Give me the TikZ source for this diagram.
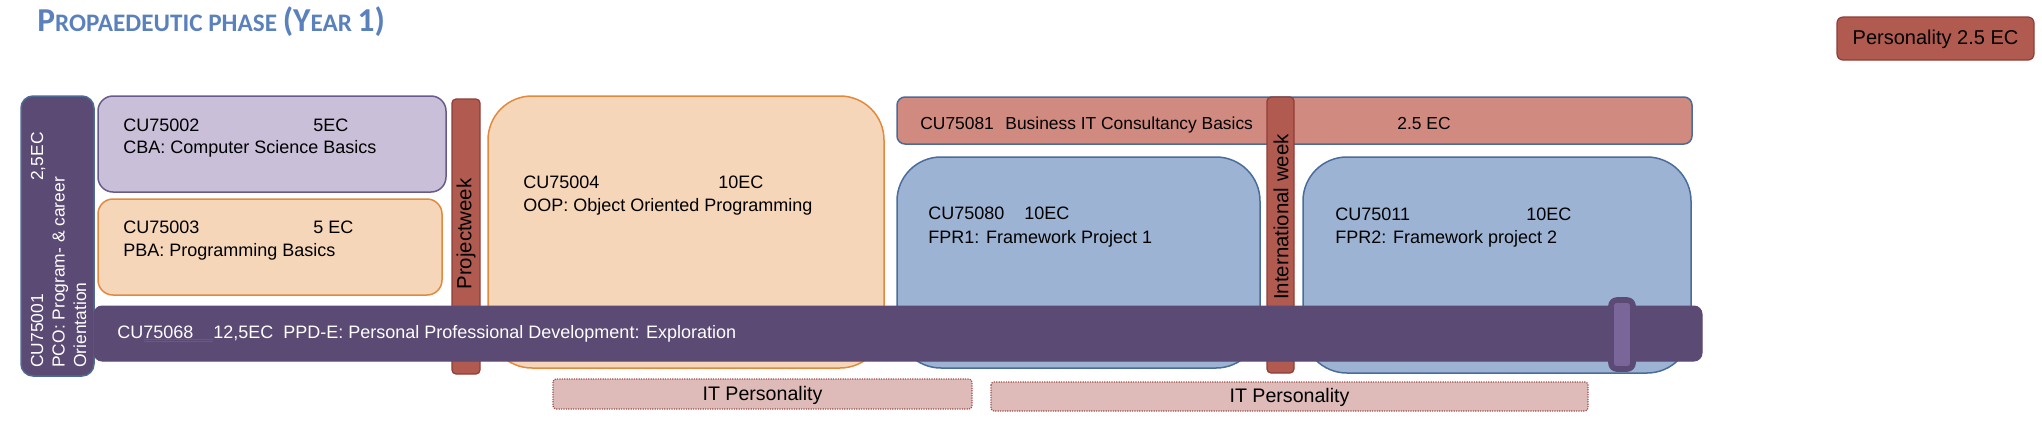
\documentclass[tikz,border=0pt]{standalone}
\usepackage{fontspec}
\setmainfont{Liberation Sans}
\newfontfamily\titlefont{Carlito}
\definecolor{titleblue}{HTML}{5B81BD}
\definecolor{ppdpurple}{HTML}{5B4A74}
\definecolor{pcoborder}{HTML}{4E6B96}
\definecolor{cbafill}{HTML}{C9BFD9}
\definecolor{cbaborder}{HTML}{6A5A8C}
\definecolor{peachfill}{HTML}{F5D6B9}
\definecolor{orangeborder}{HTML}{E3893E}
\definecolor{weekfill}{HTML}{B05A50}
\definecolor{weekborder}{HTML}{8E3D37}
\definecolor{bitfill}{HTML}{D08A80}
\definecolor{blueborder}{HTML}{4A6C9B}
\definecolor{fprfill}{HTML}{9CB3D3}
\definecolor{markfill}{HTML}{7A6699}
\definecolor{itfill}{HTML}{DEBBB8}
\definecolor{itborder}{HTML}{A0504B}
\definecolor{spellblue}{HTML}{3A5FE0}
\begin{document}
\begin{tikzpicture}[x=0.5pt,y=-0.5pt,
  txt/.style={inner sep=0pt,anchor=base west,font=\fontsize{9}{10.8}\selectfont},
  wtxt/.style={txt,text=white},
  rtxt/.style={inner sep=0pt,rotate=90,font=\fontsize{10.2}{12}\selectfont},
  pcobox/.style={fill=ppdpurple,draw=pcoborder,line width=0.75pt,rounded corners=6pt},
  cbabox/.style={fill=cbafill,draw=cbaborder,line width=0.75pt,rounded corners=7.5pt},
  peachbox/.style={fill=peachfill,draw=orangeborder,line width=0.75pt,rounded corners=7.5pt},
  bigpeach/.style={peachbox,rounded corners=22pt},
  weekbar/.style={fill=weekfill,draw=weekborder,line width=0.6pt,rounded corners=2pt},
  bitbar/.style={fill=bitfill,draw=blueborder,line width=0.75pt,rounded corners=4pt},
  fprbox/.style={fill=fprfill,draw=blueborder,line width=0.75pt,rounded corners=22pt},
  ppdbar/.style={fill=ppdpurple,draw=ppdpurple,line width=0.5pt,rounded corners=4pt},
  markbox/.style={fill=markfill,draw=ppdpurple,line width=2.8pt,rounded corners=3pt},
  persbox/.style={fill=weekfill,draw=weekborder,line width=0.6pt,rounded corners=3pt},
  itbox/.style={fill=itfill,draw=itborder,line width=0.6pt,dash pattern=on 0.6pt off 0.6pt,rounded corners=1.5pt},
  spell/.style={draw=spellblue,line width=0.35pt}
]
\useasboundingbox (0,0) rectangle (2042,436);

% title
\node[inner sep=0pt,anchor=base west,text=titleblue] (title) at (37,31)
 {\titlefont\bfseries\fontsize{16.7}{19}\selectfont P\fontsize{12.6}{15}\selectfont ROPAEDEUTIC PHASE \fontsize{16.7}{19}\selectfont (Y\fontsize{12.6}{15}\selectfont EAR \fontsize{16.7}{19}\selectfont 1)};

% personality box top right
\draw[persbox] (1837,17) rectangle (2034,60);
\node[inner sep=0pt,font=\fontsize{10}{12}\selectfont] (pers) at (1935.5,39) {Personality 2.5 EC};

% PCO
\draw[pcobox] (21,96) rectangle (94,376);
\node[wtxt,rotate=90,font=\fontsize{8.7}{10}\selectfont] (pco1) at (43,368) {CU75001};
\node[inner sep=0pt,text=white,anchor=base east,rotate=90,font=\fontsize{8.7}{10}\selectfont] (pcoec) at (43,132) {2,5EC};
\node[wtxt,rotate=90,font=\fontsize{8.7}{10}\selectfont] (pco2) at (64.5,368) {PCO: Program- \& career};
\node[wtxt,rotate=90,font=\fontsize{8.7}{10}\selectfont] (pco3) at (86,368) {Orientation};

% CBA
\draw[cbabox] (98,96) rectangle (446,192);
\node[txt] (cba1) at (123,131) {CU75002};
\node[txt] (cbaec) at (313,131) {5EC};
\node[txt] (cba2) at (123,153) {CBA: Computer Science Basics};

% PBA
\draw[peachbox] (98,199) rectangle (442,295);
\node[txt] (pba1) at (123,233) {CU75003};
\node[txt] (pbaec) at (313,233) {5 EC};
\node[txt] (pba2) at (123,256) {PBA: Programming Basics};

% Projectweek
\draw[weekbar] (452,99) rectangle (480,374);
\node[rtxt] (pw) at (466,234) {Projectweek};

% OOP
\draw[bigpeach] (488,96) rectangle (884,368);
\node[txt] (oop1) at (523,188) {CU75004};
\node[txt] (oopec) at (718,188) {10EC};
\node[txt] (oop2) at (523,211) {OOP: Object Oriented Programming};

% BIT
\draw[bitbar] (897,97) rectangle (1692,144);
\node[txt,font=\fontsize{8.7}{10}\selectfont] (bit1) at (920,129) {CU75081};
\node[txt,font=\fontsize{8.7}{10}\selectfont] (bit2) at (1005,129) {Business IT Consultancy Basics};
\node[txt,font=\fontsize{8.7}{10}\selectfont] (bitec) at (1397,129) {2.5 EC};

% FPR1
\draw[fprbox] (897,157) rectangle (1260,368);
\node[txt] (fpr1a) at (928,219) {CU75080};
\node[txt] (fpr1ec) at (1024,219) {10EC};
\node[txt] (fpr1b) at (928,243) {FPR1: Framework Project 1};

% FPR2
\draw[fprbox] (1303,157) rectangle (1691,373);
\node[txt] (fpr2a) at (1335,220) {CU75011};
\node[txt] (fpr2ec) at (1526,220) {10EC};
\node[txt] (fpr2b) at (1335,243) {FPR2: Framework project 2};

% International week
\draw[weekbar] (1267,97) rectangle (1294,373);
\node[rtxt] (iw) at (1281,217) {International week};

% PPD bar
\draw[ppdbar] (94,306) rectangle (1702,361);
\node[wtxt] (ppd1) at (117,338) {CU75068};
\node[wtxt] (ppdec) at (213,338) {12,5EC};
\node[wtxt] (ppd2) at (283,338) {PPD-E: Personal Professional Development: Exploration};
\coordinate (sp1) at (144,339);
\coordinate (sp2) at (213,339);
\coordinate (sp3) at (144,341);
\coordinate (sp4) at (213,341);
\draw[spell] (sp1) -- (sp2);
\draw[spell] (sp3) -- (sp4);

% marker
\draw[markbox] (1611,300) rectangle (1633,369);

% IT Personality
\draw[itbox] (553,379) rectangle (972,409);
\node[inner sep=0pt,font=\fontsize{9.8}{12}\selectfont] (it1) at (762.5,395) {IT Personality};
\draw[itbox] (991,382) rectangle (1588,411);
\node[inner sep=0pt,font=\fontsize{9.8}{12}\selectfont] (it2) at (1289.5,397) {IT Personality};
\end{tikzpicture}
\end{document}
